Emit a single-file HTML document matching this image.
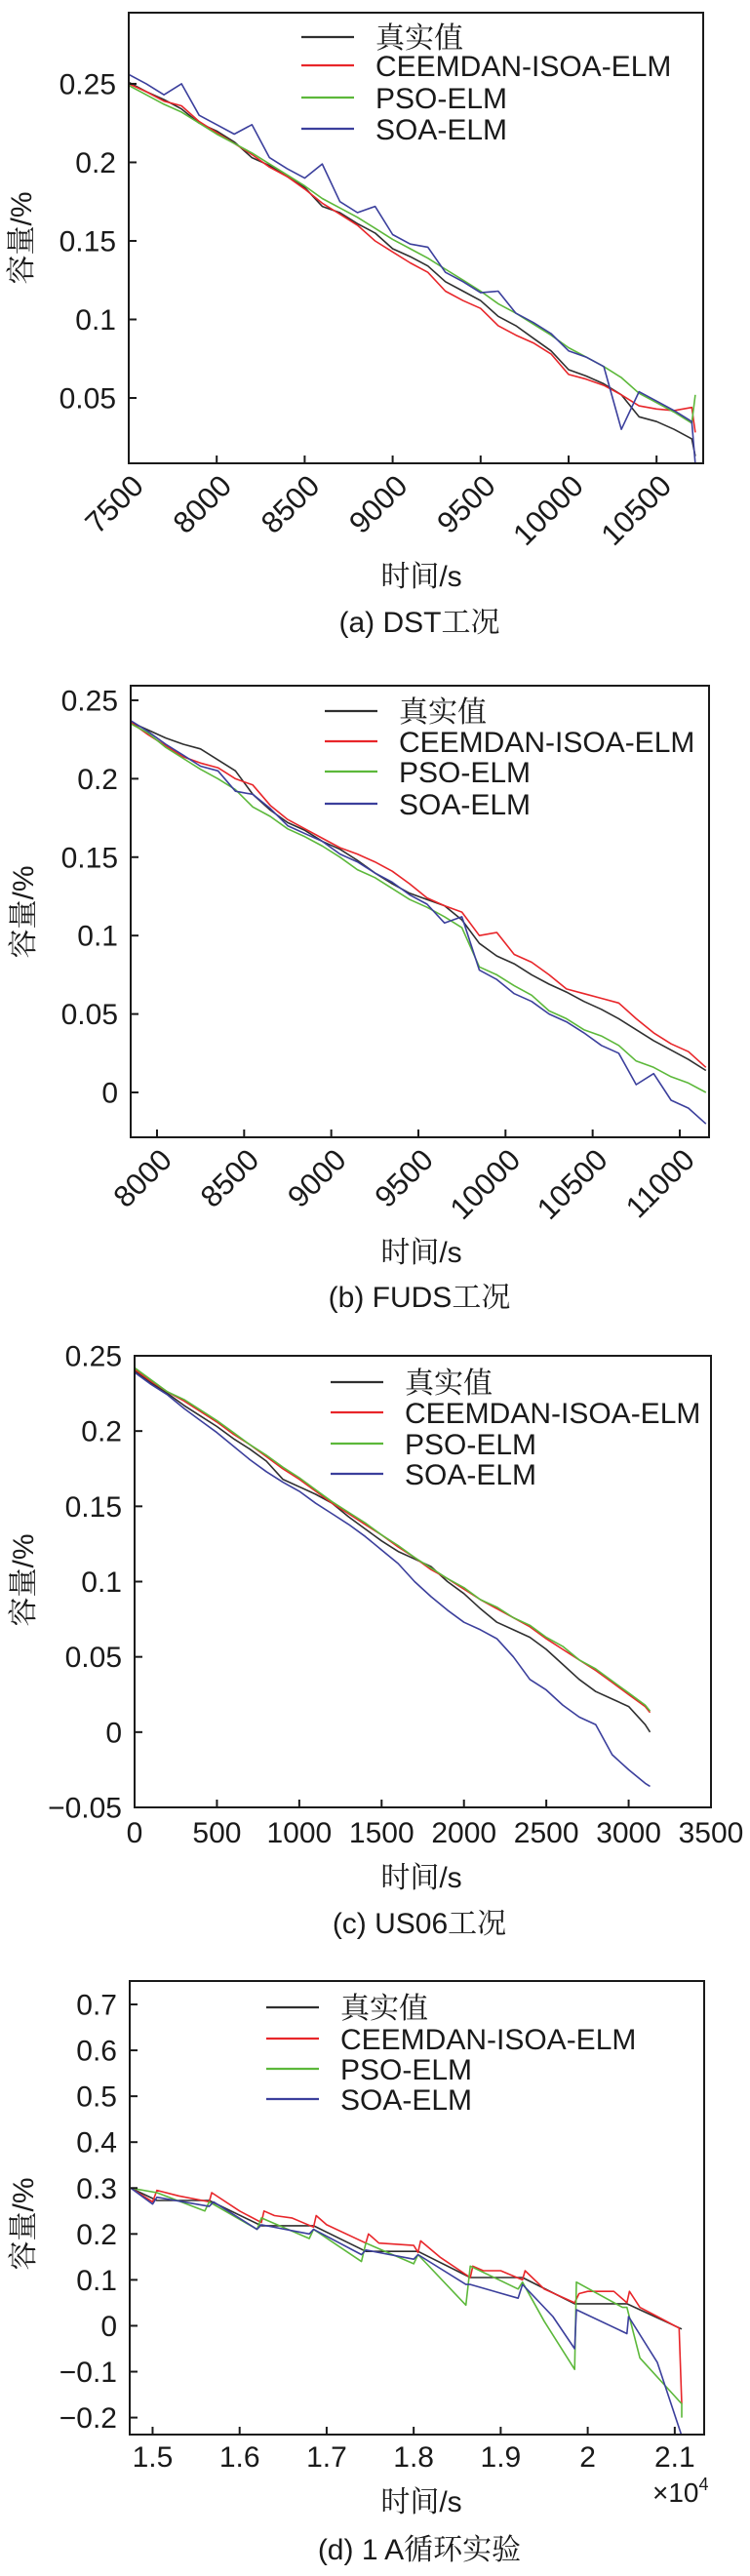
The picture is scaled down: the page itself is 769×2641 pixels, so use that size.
<!DOCTYPE html>
<html><head><meta charset="utf-8">
<style>
html,body{margin:0;padding:0;background:#fff;}
svg{display:block;}
text{font-family:"Liberation Sans","Noto Serif CJK SC",serif;fill:#1a1a1a;}
</style></head>
<body>
<svg id="fig" width="769" height="2641" viewBox="0 0 769 2641" xmlns="http://www.w3.org/2000/svg"></svg>
<script>
// ---------- Panel (a) DST ----------
const dstX = [7500,7600,7700,7800,7900,8000,8100,8200,8300,8400,8500,8600,8700,8800,8900,9000,9100,9200,9300,9400,9500,9600,9700,9800,9900,10000,10100,10200,10300,10400,10500,10600,10700,10720];
const dstTrue = [.251,.245,.240,.234,.225,.220,.213,.203,.198,.191,.184,.172,.168,.161,.155,.145,.140,.134,.124,.118,.112,.102,.096,.088,.080,.068,.064,.059,.052,.038,.035,.030,.024,.013];
const dstRed = [.250,.245,.239,.236,.226,.219,.212,.205,.197,.191,.183,.174,.167,.160,.150,.143,.136,.130,.118,.112,.107,.096,.090,.085,.078,.065,.062,.058,.052,.045,.043,.042,.044,.028];
const dstGreen = [.249,.243,.237,.232,.225,.218,.212,.206,.199,.192,.185,.177,.171,.165,.158,.151,.145,.139,.132,.125,.118,.110,.104,.097,.090,.082,.076,.070,.063,.053,.047,.041,.034,.052];
const dstBlue = [.256,.250,.243,.250,.230,.224,.218,.224,.203,.196,.190,.199,.175,.168,.172,.154,.148,.146,.130,.124,.117,.118,.104,.098,.091,.080,.076,.070,.030,.054,.048,.042,.035,.008];
const dstXTicks = [7500,8000,8500,9000,9500,10000,10500];
const dstYTicks = [0.05,0.1,0.15,0.2,0.25];
const dstYLabels = ["0.05","0.1","0.15","0.2","0.25"];

// ---------- Panel (b) FUDS ----------
const fudsX = [7850,7950,8050,8150,8250,8350,8450,8550,8650,8750,8850,8950,9050,9150,9250,9350,9450,9550,9650,9750,9850,9950,10050,10150,10250,10350,10450,10550,10650,10750,10850,10950,11050,11150];
const fudsTrue = [.236,.231,.226,.222,.219,.212,.205,.190,.180,.172,.167,.160,.155,.148,.140,.133,.127,.123,.119,.110,.095,.087,.082,.075,.069,.064,.058,.053,.047,.040,.033,.027,.021,.014];
const fudsRed = [.236,.228,.221,.214,.210,.207,.200,.196,.183,.174,.168,.162,.156,.152,.147,.141,.133,.124,.119,.115,.100,.102,.088,.083,.075,.066,.063,.060,.057,.047,.038,.031,.026,.016];
const fudsGreen = [.235,.229,.220,.213,.206,.200,.193,.182,.176,.168,.163,.157,.150,.142,.137,.130,.123,.118,.112,.105,.080,.075,.068,.062,.052,.047,.040,.036,.030,.020,.016,.010,.006,.000];
const fudsBlue = [.237,.230,.222,.215,.208,.205,.192,.190,.181,.170,.165,.160,.152,.147,.140,.134,.126,.120,.108,.112,.078,.072,.063,.058,.050,.045,.038,.030,.025,.005,.012,-.005,-.010,-.020];
const fudsXTicks = [8000,8500,9000,9500,10000,10500,11000];
const fudsYTicks = [0,0.05,0.1,0.15,0.2,0.25];
const fudsYLabels = ["0","0.05","0.1","0.15","0.2","0.25"];

// ---------- Panel (c) US06 ----------
const usX = [0,100,200,300,400,500,600,700,800,900,1000,1100,1200,1300,1400,1500,1600,1700,1800,1900,2000,2100,2200,2300,2400,2500,2600,2700,2800,2900,3000,3100,3130];
const usTrue = [.240,.232,.225,.217,.210,.203,.195,.188,.180,.168,.163,.158,.152,.143,.135,.127,.120,.115,.110,.100,.092,.082,.073,.068,.063,.055,.045,.035,.027,.022,.017,.005,.000];
const usRed = [.241,.233,.226,.220,.213,.206,.198,.191,.183,.175,.168,.160,.152,.145,.138,.131,.123,.116,.108,.102,.095,.088,.082,.076,.070,.062,.055,.048,.041,.033,.025,.017,.013];
const usGreen = [.242,.234,.226,.221,.214,.207,.199,.191,.184,.176,.169,.161,.153,.146,.139,.131,.124,.116,.109,.102,.096,.088,.083,.076,.071,.063,.057,.048,.042,.034,.026,.018,.014];
const usBlue = [.239,.231,.224,.215,.207,.199,.190,.181,.173,.166,.160,.152,.145,.138,.130,.121,.112,.100,.090,.081,.073,.068,.062,.050,.035,.028,.018,.010,.005,-.015,-.025,-.034,-.036];
const usXTicks = [0,500,1000,1500,2000,2500,3000,3500];
const usYTicks = [-0.05,0,0.05,0.1,0.15,0.2,0.25];
const usYLabels = ["\u22120.05","0","0.05","0.1","0.15","0.2","0.25"];

// ---------- Panel (d) 1A cycle ----------
const cycTrueX = [1.475,1.505,1.565,1.625,1.685,1.745,1.805,1.865,1.925,1.985,2.045,2.108];
const cycTrueY = [.300,.273,.273,.218,.218,.162,.162,.105,.105,.048,.048,-.007];
const cycRedX = [1.475,1.500,1.505,1.530,1.565,1.568,1.600,1.625,1.628,1.640,1.660,1.685,1.688,1.700,1.745,1.748,1.760,1.800,1.805,1.808,1.830,1.865,1.868,1.880,1.900,1.925,1.928,1.950,1.985,1.990,2.000,2.030,2.045,2.048,2.060,2.080,2.100,2.105,2.108];
const cycRedY = [.300,.270,.295,.283,.270,.290,.250,.225,.250,.240,.235,.215,.240,.220,.180,.200,.180,.175,.160,.185,.150,.105,.130,.120,.120,.100,.120,.080,.050,.070,.075,.075,.050,.075,.040,.020,.000,-.005,-.170];
const cycGreenX = [1.475,1.505,1.560,1.565,1.620,1.625,1.680,1.685,1.740,1.745,1.800,1.805,1.860,1.865,1.920,1.925,1.950,1.985,1.987,2.040,2.045,2.060,2.108,2.108];
const cycGreenY = [.300,.290,.250,.270,.210,.235,.190,.210,.140,.180,.135,.155,.045,.130,.080,.095,.010,-.095,.095,.040,.040,-.070,-.170,-.200];
const cycBlueX = [1.475,1.500,1.505,1.565,1.570,1.620,1.625,1.680,1.685,1.740,1.745,1.800,1.805,1.860,1.865,1.920,1.925,1.960,1.985,1.987,2.045,2.047,2.080,2.108];
const cycBlueY = [.300,.265,.280,.260,.270,.210,.220,.200,.210,.155,.165,.145,.155,.090,.090,.060,.090,.020,-.050,.035,-.017,.020,-.080,-.240];
const cycXTicks = [1.5,1.6,1.7,1.8,1.9,2.0,2.1];
const cycXLabels = ["1.5","1.6","1.7","1.8","1.9","2","2.1"];
const cycYTicks = [-0.2,-0.1,0,0.1,0.2,0.3,0.4,0.5,0.6,0.7];
const cycYLabels = ["\u22120.2","\u22120.1","0","0.1","0.2","0.3","0.4","0.5","0.6","0.7"];

const COLORS = {t:'#2f2f2f', r:'#e8262a', g:'#5cb83a', b:'#3b3f9c'};
const NS = 'http://www.w3.org/2000/svg';
const fig = document.getElementById('fig');

function mk(tag, attrs, parent){
  const e = document.createElementNS(NS, tag);
  for (const k in attrs) e.setAttribute(k, attrs[k]);
  (parent||fig).appendChild(e);
  return e;
}

function panel(p){
  const g = mk('g', {});
  
  
  const sx = v => p.L + (v - p.x0) / (p.x1 - p.x0) * (p.R - p.L);
  const sy = v => p.B - (v - p.y0) / (p.y1 - p.y0) * (p.B - p.T);
  const clip = mk('clipPath', {id: 'clip-' + p.name}, g);
  mk('rect', {x:p.L, y:p.T, width:p.R-p.L, height:p.B-p.T}, clip);
  // series
  const sg = mk('g', {'clip-path':'url(#clip-' + p.name + ')'}, g);
  p.series.forEach(s => {
    const d = s.xs.map((x,i) => (i?'L':'M') + sx(x).toFixed(1) + ' ' + sy(s.ys[i]).toFixed(1)).join(' ');
    const path = mk('path', {d:d, fill:'none', stroke:s.c, 'stroke-width':1.6, 'stroke-linejoin':'round'}, sg);
    
    
  });
  // frame
  const fr = mk('rect', {x:p.L, y:p.T, width:p.R-p.L, height:p.B-p.T, fill:'none', stroke:'#1a1a1a', 'stroke-width':2}, g);
  
  
  // y ticks
  p.yt.forEach((v,i) => {
    const y = sy(v);
    mk('line', {x1:p.L, x2:p.L+8, y1:y, y2:y, stroke:'#1a1a1a', 'stroke-width':2}, g);
    const t = mk('text', {x:p.L-13, y:y+10.5, 'text-anchor':'end', 'font-size':30}, g);
    
    
    t.textContent = p.yl[i];
  });
  // x ticks
  p.xt.forEach((v,i) => {
    const x = sx(v);
    mk('line', {x1:x, x2:x, y1:p.B, y2:p.B-8, stroke:'#1a1a1a', 'stroke-width':2}, g);
    let t;
    if (p.rot) {
      t = mk('text', {x:0, y:0, 'text-anchor':'end', 'font-size':31, transform:'translate(' + (x+17) + ',' + (p.B+25) + ') rotate(-45)'}, g);
    } else {
      t = mk('text', {x:x, y:p.B+p.xlOff, 'text-anchor':'middle', 'font-size':30}, g);
    }
    
    
    t.textContent = p.xl ? p.xl[i] : String(v);
  });
  // legend
  const lg = mk('g', {}, g);
  
  
  const names = ['真实值','CEEMDAN-ISOA-ELM','PSO-ELM','SOA-ELM'];
  const cols = [COLORS.t, COLORS.r, COLORS.g, COLORS.b];
  names.forEach((n,i) => {
    const y = p.legY[i];
    const ln = mk('line', {x1:p.legX, x2:p.legX+54, y1:y, y2:y, stroke:cols[i], 'stroke-width':2.2}, lg);
    
    
    const t = mk('text', {x:p.legX+76, y:y+11, 'font-size':30}, lg);
    
    
    t.textContent = n;
  });
  // axis labels
  const yl = mk('text', {x:0, y:0, 'text-anchor':'middle', 'font-size':30, transform:'translate(' + (p.ylx) + ',' + p.yly + ') rotate(-90)'}, g);
  
  
  yl.textContent = '容量/%';
  const xl = mk('text', {x:432, y:p.xlabY, 'text-anchor':'middle', 'font-size':30}, g);
  
  
  xl.textContent = '时间/s';
  const cp = mk('text', {x:430, y:p.capY, 'text-anchor':'middle', 'font-size':30}, g);
  
  
  cp.textContent = p.cap;
  return {g, sx, sy};
}

panel({name:'panel-dst', L:132, R:721, T:13, B:475, x0:7500, x1:10765, y0:0.0084, y1:0.2953,
  xt:dstXTicks, yt:dstYTicks, yl:dstYLabels, rot:true,
  series:[{n:'series-true',xs:dstX,ys:dstTrue,c:COLORS.t},{n:'series-ceemdan',xs:dstX,ys:dstRed,c:COLORS.r},{n:'series-pso',xs:dstX,ys:dstGreen,c:COLORS.g},{n:'series-soa',xs:dstX,ys:dstBlue,c:COLORS.b}],
  legX:309, legY:[38,67,100,132], ylx:32, yly:244, xlabY:601, capY:648, cap:'(a) DST工况'});

panel({name:'panel-fuds', L:134, R:727, T:703, B:1166, x0:7849, x1:11168, y0:-0.0286, y1:0.2593,
  xt:fudsXTicks, yt:fudsYTicks, yl:fudsYLabels, rot:true,
  series:[{n:'series-true',xs:fudsX,ys:fudsTrue,c:COLORS.t},{n:'series-ceemdan',xs:fudsX,ys:fudsRed,c:COLORS.r},{n:'series-pso',xs:fudsX,ys:fudsGreen,c:COLORS.g},{n:'series-soa',xs:fudsX,ys:fudsBlue,c:COLORS.b}],
  legX:333, legY:[729,760,791,824], ylx:34, yly:935, xlabY:1294, capY:1340, cap:'(b) FUDS工况'});

panel({name:'panel-us06', L:138, R:729, T:1390, B:1853, x0:0, x1:3500, y0:-0.05, y1:0.25,
  xt:usXTicks, yt:usYTicks, yl:usYLabels, rot:false, xlOff:36,
  series:[{n:'series-true',xs:usX,ys:usTrue,c:COLORS.t},{n:'series-ceemdan',xs:usX,ys:usRed,c:COLORS.r},{n:'series-pso',xs:usX,ys:usGreen,c:COLORS.g},{n:'series-soa',xs:usX,ys:usBlue,c:COLORS.b}],
  legX:339, legY:[1417,1448,1480,1511], ylx:34, yly:1620, xlabY:1935, capY:1982, cap:'(c) US06工况'});

panel({name:'panel-1a-cycle', L:133, R:722, T:2031, B:2496, x0:1.4737, x1:2.1338, y0:-0.237, y1:0.751,
  xt:cycXTicks, xl:cycXLabels, yt:cycYTicks, yl:cycYLabels, rot:false, xlOff:33,
  series:[{n:'series-true',xs:cycTrueX,ys:cycTrueY,c:COLORS.t},{n:'series-ceemdan',xs:cycRedX,ys:cycRedY,c:COLORS.r},{n:'series-pso',xs:cycGreenX,ys:cycGreenY,c:COLORS.g},{n:'series-soa',xs:cycBlueX,ys:cycBlueY,c:COLORS.b}],
  legX:273, legY:[2058,2090,2121,2152], ylx:34, yly:2280, xlabY:2575, capY:2624, cap:'(d) 1 A循环实验'});

const ex = mk('text', {x:669, y:2565, 'font-size':28});


ex.textContent = '×10';
const sup = mk('tspan', {dy:-12, 'font-size':18}, ex);
sup.textContent = '4';
</script>
</body></html>
